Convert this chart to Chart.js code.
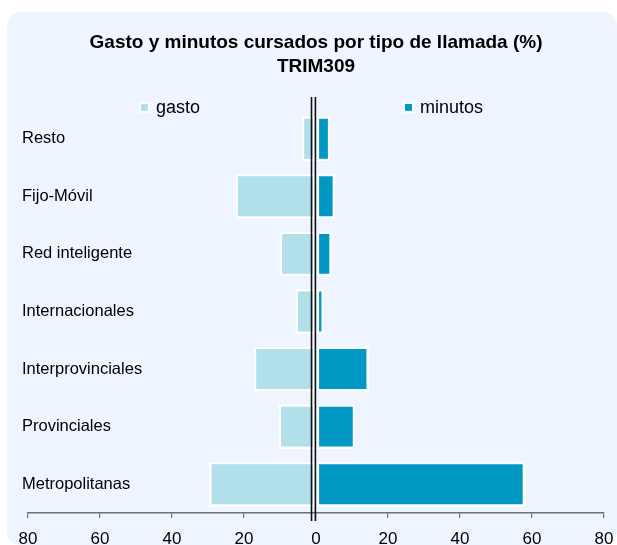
<!DOCTYPE html>
<html><head><meta charset="utf-8">
<script src="https://cdn.jsdelivr.net/npm/chart.js@4.4.1/dist/chart.umd.min.js"></script>
<style>html,body{margin:0;padding:0;background:#fff}#wrap{width:617px;height:545px;position:relative}canvas{display:block}</style>
</head><body><div id="wrap"><canvas id="c" width="617" height="545"></canvas></div>
<script>
const categories = ['Resto','Fijo-Móvil','Red inteligente','Internacionales','Interprovinciales','Provinciales','Metropolitanas'];
const gasto = [4.0, 22.4, 10.1, 5.7, 17.3, 10.4, 29.7];
const minutos = [4.0, 5.3, 4.4, 2.2, 14.7, 10.9, 58.1];
const tickValues = [-80,-60,-40,-20,0,20,40,60,80];
const titleLines = ['Gasto y minutos cursados por tipo de llamada (%)','TRIM309'];
const seriesNames = ['gasto','minutos'];
const seriesColors = ['#B2E0EA','#0099C4'];
const FONT = '"Liberation Sans", Arial, sans-serif';

const panelPlugin = {
  id: 'panel',
  beforeDraw(chart) {
    const ctx = chart.ctx;
    ctx.save();
    ctx.fillStyle = '#ffffff';
    ctx.fillRect(0, 0, chart.width, chart.height);
    ctx.fillStyle = '#EEF5FE';
    ctx.beginPath();
    ctx.roundRect(7, 12, chart.width - 7, chart.height - 12, 14);
    ctx.fill();
    ctx.restore();
  }
};

const zeroLinePlugin = {
  id: 'zeroLine',
  afterDatasetsDraw(chart) {
    const ctx = chart.ctx;
    const x0 = chart.scales.x.getPixelForValue(0);
    const top = chart.chartArea.top - 13;
    const bottom = chart.chartArea.bottom + 8;
    ctx.save();
    ctx.strokeStyle = '#111111';
    ctx.lineWidth = 1.6;
    [x0 - 4.5, x0 - 0.6].forEach(x => {
      ctx.beginPath();
      ctx.moveTo(x, top);
      ctx.lineTo(x, bottom);
      ctx.stroke();
    });
    ctx.restore();
  }
};

const legendPlugin = {
  id: 'customLegend',
  afterDraw(chart) {
    const ctx = chart.ctx;
    const y = chart.chartArea.top - 2;
    const xs = [141, 405];
    ctx.save();
    ctx.font = '18px ' + FONT;
    ctx.textBaseline = 'middle';
    ctx.textAlign = 'left';
    seriesNames.forEach((name, i) => {
      const bx = xs[i];
      ctx.fillStyle = '#ffffff';
      ctx.fillRect(bx - 2, y - 6, 11, 11);
      ctx.fillStyle = seriesColors[i];
      ctx.fillRect(bx, y - 4, 7, 7);
      ctx.fillStyle = '#000000';
      ctx.fillText(name, bx + 15, y);
    });
    ctx.restore();
  }
};

new Chart(document.getElementById('c'), {
  type: 'bar',
  data: {
    labels: categories,
    datasets: [
      { label: seriesNames[0], data: gasto.map(v => -v), backgroundColor: seriesColors[0], borderColor: '#ffffff', borderWidth: 2.5, borderSkipped: false },
      { label: seriesNames[1], data: minutos, backgroundColor: seriesColors[1], borderColor: '#ffffff', borderWidth: 2.5, borderSkipped: false }
    ]
  },
  options: {
    indexAxis: 'y',
    responsive: false,
    animation: false,
    devicePixelRatio: 1,
    layout: { padding: { left: 28, right: 13, top: 0, bottom: 0 } },
    datasets: { bar: { categoryPercentage: 1, barPercentage: 0.78 } },
    scales: {
      x: {
        stacked: true,
        min: -80, max: 80,
        afterBuildTicks(axis) { axis.ticks = tickValues.map(v => ({ value: v })); },
        afterFit(axis) { axis.height = 32; },
        ticks: {
          callback: v => String(Math.abs(v)),
          color: '#000000',
          font: { family: FONT, size: 17, lineHeight: 2.12 },
          padding: 3,
          maxRotation: 0
        },
        grid: { display: true, drawOnChartArea: false, drawTicks: true, tickLength: 5, color: '#707070', lineWidth: 1.2 },
        border: { display: true, color: '#707070', width: 1.5 }
      },
      y: {
        stacked: true,
        afterFit(axis) { axis.width = 0; },
        ticks: {
          mirror: true,
          padding: -6,
          color: '#000000',
          font: { family: FONT, size: 16.5 }
        },
        grid: { display: false, drawTicks: false, tickLength: 0 },
        border: { display: false }
      }
    },
    plugins: {
      legend: { display: false },
      tooltip: { enabled: false },
      title: {
        display: true,
        text: titleLines,
        color: '#000000',
        font: { family: FONT, size: 19, weight: 'bold', lineHeight: 1.26 },
        padding: { top: 31, bottom: 31 }
      }
    }
  },
  plugins: [panelPlugin, zeroLinePlugin, legendPlugin]
});
</script>
</body></html>
